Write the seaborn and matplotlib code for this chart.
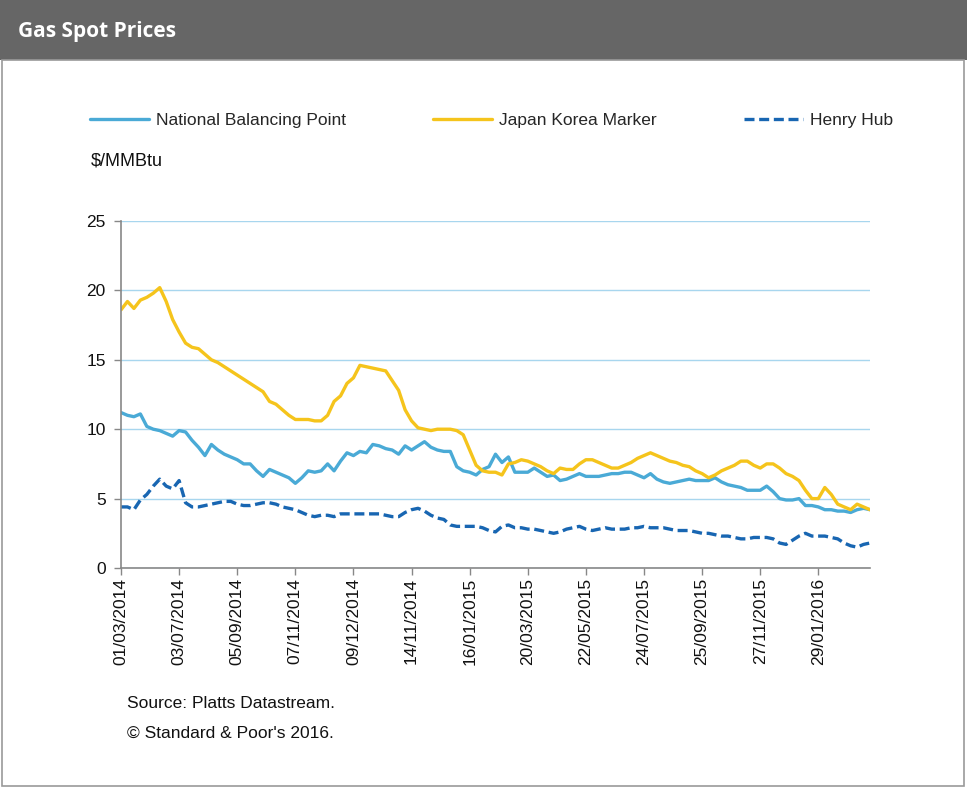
import numpy as np
import pandas as pd
import matplotlib
matplotlib.use("Agg")
import matplotlib.pyplot as plt
from matplotlib.patches import Rectangle
from matplotlib.lines import Line2D
import seaborn as sns

tick_labels = ["01/03/2014", "03/07/2014", "05/09/2014", "07/11/2014", "09/12/2014",
               "14/11/2014", "16/01/2015", "20/03/2015", "22/05/2015", "24/07/2015",
               "25/09/2015", "27/11/2015", "29/01/2016"]

nbp = [11.2, 11.0, 10.9, 11.1, 10.2, 10.0, 9.9, 9.7, 9.5, 9.9, 9.8, 9.2, 8.7, 8.1, 8.9, 8.5,
       8.2, 8.0, 7.8, 7.5, 7.5, 7.0, 6.6, 7.1, 6.9, 6.7, 6.5, 6.1, 6.5, 7.0, 6.9, 7.0,
       7.5, 7.0, 7.7, 8.3, 8.1, 8.4, 8.3, 8.9, 8.8, 8.6, 8.5, 8.2, 8.8, 8.5, 8.8, 9.1,
       8.7, 8.5, 8.4, 8.4, 7.3, 7.0, 6.9, 6.7, 7.1, 7.3, 8.2, 7.6, 8.0, 6.9, 6.9, 6.9,
       7.2, 6.9, 6.6, 6.7, 6.3, 6.4, 6.6, 6.8, 6.6, 6.6, 6.6, 6.7, 6.8, 6.8, 6.9, 6.9,
       6.7, 6.5, 6.8, 6.4, 6.2, 6.1, 6.2, 6.3, 6.4, 6.3, 6.3, 6.3, 6.5, 6.2, 6.0, 5.9,
       5.8, 5.6, 5.6, 5.6, 5.9, 5.5, 5.0, 4.9, 4.9, 5.0, 4.5, 4.5, 4.4, 4.2, 4.2, 4.1,
       4.1, 4.0, 4.2, 4.3, 4.2]

jkm = [18.6, 19.2, 18.7, 19.3, 19.5, 19.8, 20.2, 19.2, 17.9, 17.0, 16.2, 15.9, 15.8, 15.4, 15.0, 14.8,
       14.5, 14.2, 13.9, 13.6, 13.3, 13.0, 12.7, 12.0, 11.8, 11.4, 11.0, 10.7, 10.7, 10.7, 10.6, 10.6,
       11.0, 12.0, 12.4, 13.3, 13.7, 14.6, 14.5, 14.4, 14.3, 14.2, 13.5, 12.8, 11.4, 10.6, 10.1, 10.0,
       9.9, 10.0, 10.0, 10.0, 9.9, 9.6, 8.5, 7.4, 7.0, 6.9, 6.9, 6.7, 7.5, 7.6, 7.8, 7.7,
       7.5, 7.3, 7.0, 6.8, 7.2, 7.1, 7.1, 7.5, 7.8, 7.8, 7.6, 7.4, 7.2, 7.2, 7.4, 7.6,
       7.9, 8.1, 8.3, 8.1, 7.9, 7.7, 7.6, 7.4, 7.3, 7.0, 6.8, 6.5, 6.7, 7.0, 7.2, 7.4,
       7.7, 7.7, 7.4, 7.2, 7.5, 7.5, 7.2, 6.8, 6.6, 6.3, 5.6, 5.0, 5.0, 5.8, 5.3, 4.6,
       4.4, 4.2, 4.6, 4.4, 4.2]

hh = [4.4, 4.4, 4.2, 4.9, 5.3, 5.9, 6.4, 5.9, 5.7, 6.3, 4.7, 4.4, 4.4, 4.5, 4.6, 4.7,
      4.8, 4.8, 4.6, 4.5, 4.5, 4.6, 4.7, 4.7, 4.6, 4.4, 4.3, 4.2, 4.0, 3.8, 3.7, 3.8,
      3.8, 3.7, 3.9, 3.9, 3.9, 3.9, 3.9, 3.9, 3.9, 3.8, 3.7, 3.7, 4.0, 4.2, 4.3, 4.1,
      3.8, 3.6, 3.5, 3.1, 3.0, 3.0, 3.0, 3.0, 2.9, 2.7, 2.6, 3.0, 3.1, 2.9, 2.9, 2.8,
      2.8, 2.7, 2.6, 2.5, 2.6, 2.8, 2.9, 3.0, 2.8, 2.7, 2.8, 2.9, 2.8, 2.8, 2.8, 2.9,
      2.9, 3.0, 2.9, 2.9, 2.9, 2.8, 2.7, 2.7, 2.7, 2.6, 2.5, 2.5, 2.4, 2.3, 2.3, 2.2,
      2.1, 2.1, 2.2, 2.2, 2.2, 2.1, 1.8, 1.7, 2.0, 2.3, 2.5, 2.3, 2.3, 2.3, 2.2, 2.1,
      1.8, 1.6, 1.5, 1.7, 1.8]

series_names = ["National Balancing Point", "Japan Korea Marker", "Henry Hub"]
colors = {"National Balancing Point": "#4aaad6",
          "Japan Korea Marker": "#f5c41c",
          "Henry Hub": "#1866b2"}

weeks = np.arange(len(nbp))
df = pd.concat([
    pd.DataFrame({"week": weeks, "price": nbp, "series": series_names[0]}),
    pd.DataFrame({"week": weeks, "price": jkm, "series": series_names[1]}),
    pd.DataFrame({"week": weeks, "price": hh, "series": series_names[2]}),
])

sns.set_style("white")
plt.rcParams["font.family"] = ["Liberation Sans", "DejaVu Sans"]

W, H = 967, 792
FS = 12.5
fig = plt.figure(figsize=(W / 100, H / 100), dpi=100)
fig.patch.set_facecolor("white")

# header band and frame
fig.add_artist(Rectangle((0, 1 - 60 / H), 1, 60 / H, transform=fig.transFigure,
                         facecolor="#666666", edgecolor="none", zorder=0))
fig.add_artist(Rectangle((2 / W, 6 / H), (W - 5) / W, (H - 66) / H, transform=fig.transFigure,
                         facecolor="none", edgecolor="#9a9a9a", linewidth=1.2, zorder=0))
fig.text(18 / W, 1 - 32 / H, "Gas Spot Prices", color="white", fontsize=15,
         fontweight="bold", family=["Open Sans", "DejaVu Sans"], va="center", ha="left")

ax = fig.add_axes([121 / W, 1 - 568 / H, 749 / W, 347 / H])
sns.lineplot(data=df, x="week", y="price", hue="series", style="series",
             palette=colors, dashes={series_names[0]: "", series_names[1]: "",
                                     series_names[2]: (3, 1.4)},
             linewidth=2.4, ax=ax, legend=False)

ax.set_xlim(0, len(nbp) - 1)
ax.set_ylim(0, 25)
ax.set_yticks([0, 5, 10, 15, 20, 25])
ax.set_xticks(np.arange(0, len(nbp), 9)[:len(tick_labels)])
ax.set_xticklabels(tick_labels, rotation=90, fontsize=FS, color="#111111")
ax.tick_params(axis="y", labelsize=FS, labelcolor="#111111", length=5, width=1,
               color="#888888", direction="out", left=True, pad=6)
ax.tick_params(axis="x", length=5, width=1, color="#888888", direction="out",
               bottom=True, pad=2)
ax.yaxis.grid(True, color="#a8d6ee", linewidth=1.0)
ax.xaxis.grid(False)
ax.set_axisbelow(True)
for s in ["top", "right"]:
    ax.spines[s].set_visible(False)
for s in ["left", "bottom"]:
    ax.spines[s].set_color("#888888")
    ax.spines[s].set_linewidth(1.2)
ax.set_xlabel("")
ax.set_ylabel("")

# legend
handles = [Line2D([], [], color=colors[series_names[0]], lw=2.4),
           Line2D([], [], color=colors[series_names[1]], lw=2.4),
           Line2D([], [], color=colors[series_names[2]], lw=2.4, dashes=(3, 1.4))]
fig.legend(handles, series_names, loc="center left",
           bbox_to_anchor=(90 / W, 1 - 121 / H, (893 - 90) / W, 0.001),
           mode="expand", ncol=3, frameon=False, fontsize=FS,
           handlelength=3.4, handletextpad=0.4, borderaxespad=0, borderpad=0)

fig.text(91 / W, 1 - 161 / H, r"\$/MMBtu", fontsize=FS + 0.5, va="center", ha="left",
         color="#111111")
fig.text(127 / W, 1 - 703 / H, "Source: Platts Datastream.", fontsize=FS, va="center",
         ha="left", color="#111111")
fig.text(127 / W, 1 - 733 / H, "© Standard & Poor's 2016.", fontsize=FS, va="center",
         ha="left", color="#111111")

fig.savefig("out.png", dpi=100)
